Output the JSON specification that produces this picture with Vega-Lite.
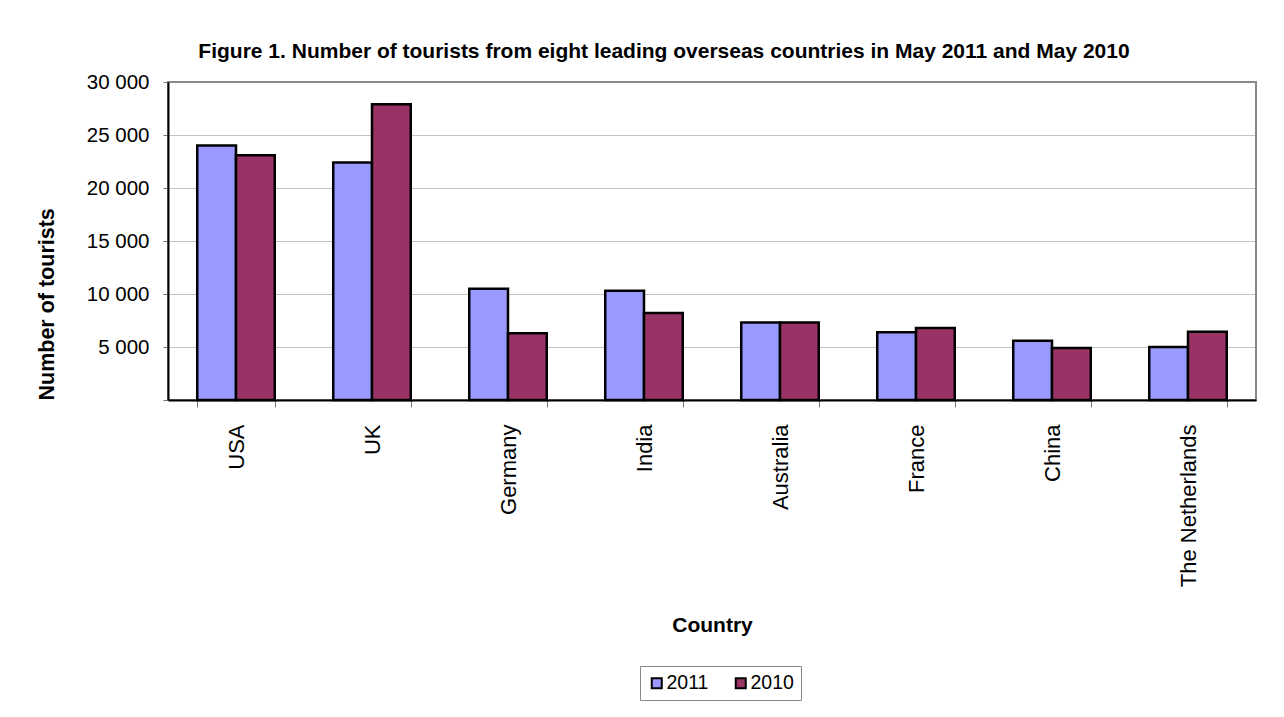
{
  "$schema": "https://vega.github.io/schema/vega-lite/v6.json",
  "autosize": {"type": "none"},
  "width": 1088,
  "height": 318,
  "padding": {"left": 168, "top": 82, "right": 28, "bottom": 317},
  "background": "white",
  "title": {
    "text": "Figure 1. Number of tourists from eight leading overseas countries in May 2011 and May 2010",
    "font": "Liberation Sans",
    "fontSize": 21,
    "fontWeight": "bold",
    "color": "black",
    "anchor": "middle",
    "dx": -48,
    "offset": 10
  },
  "data": {
    "values": [
      {"country": "USA", "year": "2011", "tourists": 24000},
      {"country": "USA", "year": "2010", "tourists": 23100},
      {"country": "UK", "year": "2011", "tourists": 22400},
      {"country": "UK", "year": "2010", "tourists": 27900},
      {"country": "Germany", "year": "2011", "tourists": 10500},
      {"country": "Germany", "year": "2010", "tourists": 6300},
      {"country": "India", "year": "2011", "tourists": 10300},
      {"country": "India", "year": "2010", "tourists": 8200},
      {"country": "Australia", "year": "2011", "tourists": 7300},
      {"country": "Australia", "year": "2010", "tourists": 7300},
      {"country": "France", "year": "2011", "tourists": 6400},
      {"country": "France", "year": "2010", "tourists": 6800},
      {"country": "China", "year": "2011", "tourists": 5600},
      {"country": "China", "year": "2010", "tourists": 4900},
      {"country": "The Netherlands", "year": "2011", "tourists": 5000},
      {"country": "The Netherlands", "year": "2010", "tourists": 6450}
    ]
  },
  "mark": {"type": "bar", "stroke": "black", "strokeWidth": 2.5},
  "encoding": {
    "x": {
      "field": "country",
      "type": "nominal",
      "sort": null,
      "title": "Country",
      "scale": {"paddingInner": 0.43, "paddingOuter": 0.215},
      "axis": {
        "labelAngle": -90,
        "labelFontSize": 22,
        "labelPadding": 17,
        "labelColor": "black",
        "tickBand": "extent",
        "tickSize": 7,
        "tickColor": "#777",
        "domainColor": "black",
        "domainWidth": 2,
        "titleFontSize": 21,
        "titleFontWeight": "bold",
        "titleColor": "black",
        "titlePadding": 28
      }
    },
    "xOffset": {"field": "year", "type": "nominal", "sort": ["2011", "2010"]},
    "y": {
      "field": "tourists",
      "type": "quantitative",
      "title": "Number of tourists",
      "scale": {"domain": [0, 30000], "nice": false},
      "axis": {
        "values": [0, 5000, 10000, 15000, 20000, 25000, 30000],
        "labelExpr": "datum.value == 0 ? '' : replace(format(datum.value, ','), ',', ' ')",
        "labelFontSize": 20.5,
        "labelColor": "black",
        "labelPadding": 14,
        "tickSize": 5,
        "tickColor": "#777",
        "domainColor": "black",
        "domainWidth": 2,
        "grid": true,
        "gridColor": "#888",
        "gridDash": [1, 1],
        "titleFontSize": 21.5,
        "titleFontWeight": "bold",
        "titleColor": "black",
        "titleAnchor": "start",
        "titlePadding": 28
      }
    },
    "fill": {
      "field": "year",
      "type": "nominal",
      "sort": ["2011", "2010"],
      "scale": {"domain": ["2011", "2010"], "range": ["#9999FF", "#993366"]},
      "legend": {
        "title": null,
        "orient": "none",
        "legendX": 472,
        "legendY": 584,
        "direction": "horizontal",
        "symbolType": "square",
        "symbolSize": 100,
        "symbolStrokeColor": "black",
        "symbolStrokeWidth": 2,
        "labelFontSize": 19.5,
        "labelColor": "black",
        "labelOffset": 0,
        "columnPadding": 22,
        "strokeColor": "#888",
        "padding": 7
      }
    }
  },
  "config": {
    "font": "Liberation Sans",
    "view": {"stroke": "#888", "strokeWidth": 2}
  }
}
